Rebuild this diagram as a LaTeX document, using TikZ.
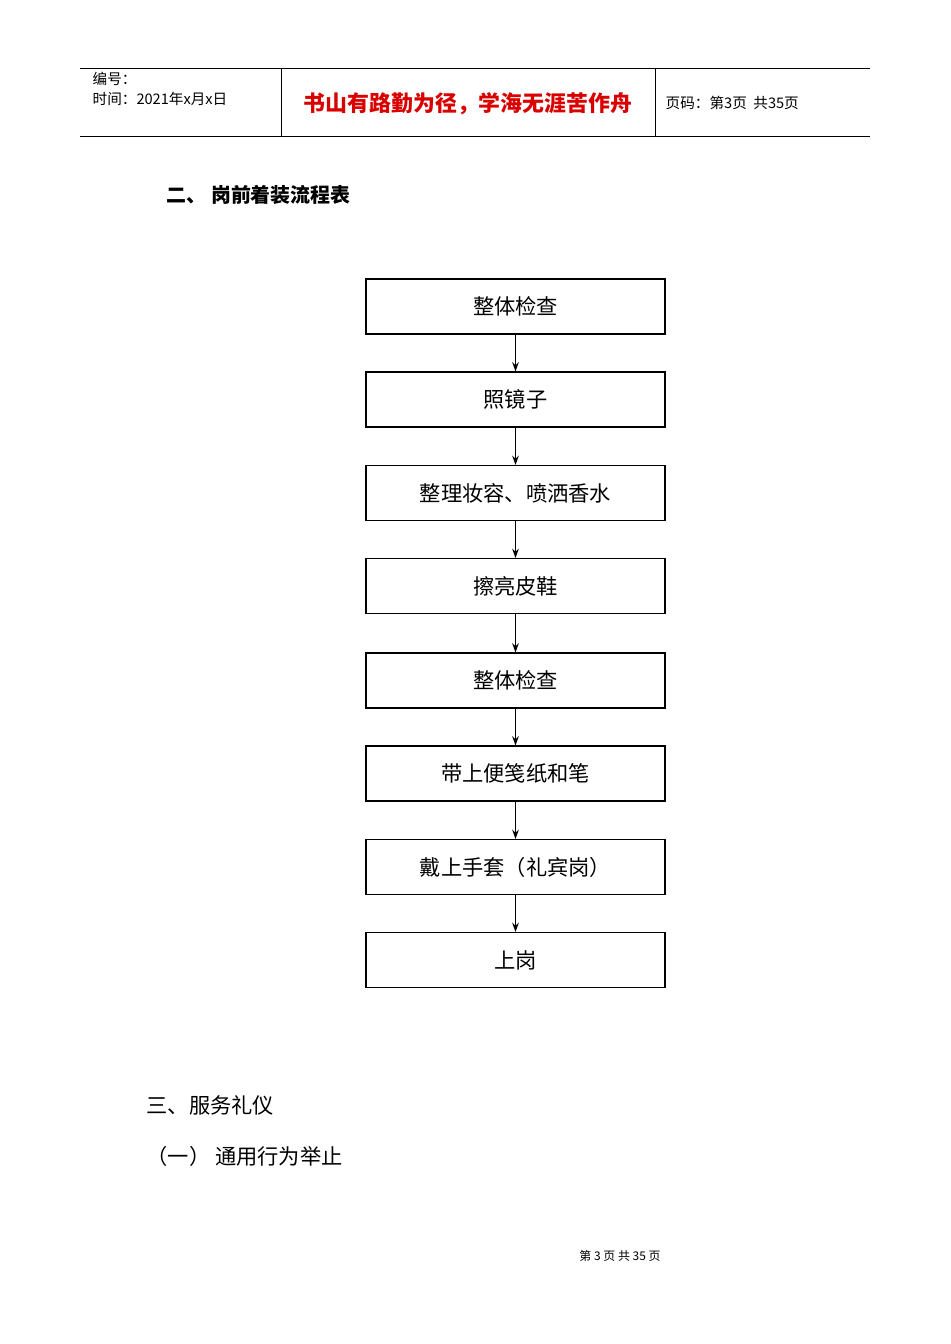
\documentclass[tikz,border=0pt]{standalone}
\usepackage{fontspec}
\setmainfont{Noto Sans CJK SC}
\usetikzlibrary{arrows.meta}
\begin{document}
\begin{tikzpicture}[x=0.0264583cm,y=-0.0264583cm,
  box/.style={draw,line width=0.8pt,minimum width=299*0.0264583cm,minimum height=55*0.0264583cm,inner sep=0pt,font=\fontsize{16}{18}\selectfont},
  arr/.style={-{Stealth[length=7pt,width=5pt]},line width=0.9pt}]
\useasboundingbox[fill=white] (0,0) rectangle (950,1344);
\draw[line width=0.6pt] (80,68) -- (870,68) (80,136) -- (870,136) (281,68) -- (281,136) (655,68) -- (655,136);
\node[anchor=west,font=\fontsize{11}{12}\selectfont] (h1) at (88,79) {编号：};
\node[anchor=west,font=\fontsize{11}{12}\selectfont] (h2) at (88,99) {时间：2021年x月x日};
\node[font=\fontsize{16.5}{18}\selectfont\bfseries,text=red!85!black] (h3) at (468,104) {书山有路勤为径，学海无涯苦作舟};
\node[anchor=west,font=\fontsize{11}{12}\selectfont] (h4) at (661,103) {页码：第3页\ \ 共35页};
\node[anchor=west,font=\fontsize{15}{18}\selectfont\bfseries] (t) at (162,195) {二、\ 岗前着装流程表};
\foreach \n/\y/\t in {1/306.5/整体检查,2/399.5/照镜子,3/493/整理妆容、喷洒香水,4/586/擦亮皮鞋,5/680.5/整体检查,6/773.5/带上便笺纸和笔,7/867/戴上手套（礼宾岗）,8/960/上岗}
  \node[box] (b\n) at (515.5,\y) {\t};
\foreach \a/\b in {1/2,2/3,3/4,4/5,5/6,6/7,7/8} \draw[arr] (b\a) -- (b\b);
\node[anchor=west,font=\fontsize{16}{18}\selectfont] (s1) at (142,1105) {三、服务礼仪};
\node[anchor=west,font=\fontsize{16}{18}\selectfont] (s2) at (142,1156) {（一）\ 通用行为举止};
\node[font=\fontsize{9}{10}\selectfont] (f) at (620,1256) {第\ 3\ 页\ 共\ 35\ 页};
\end{tikzpicture}
\end{document}
